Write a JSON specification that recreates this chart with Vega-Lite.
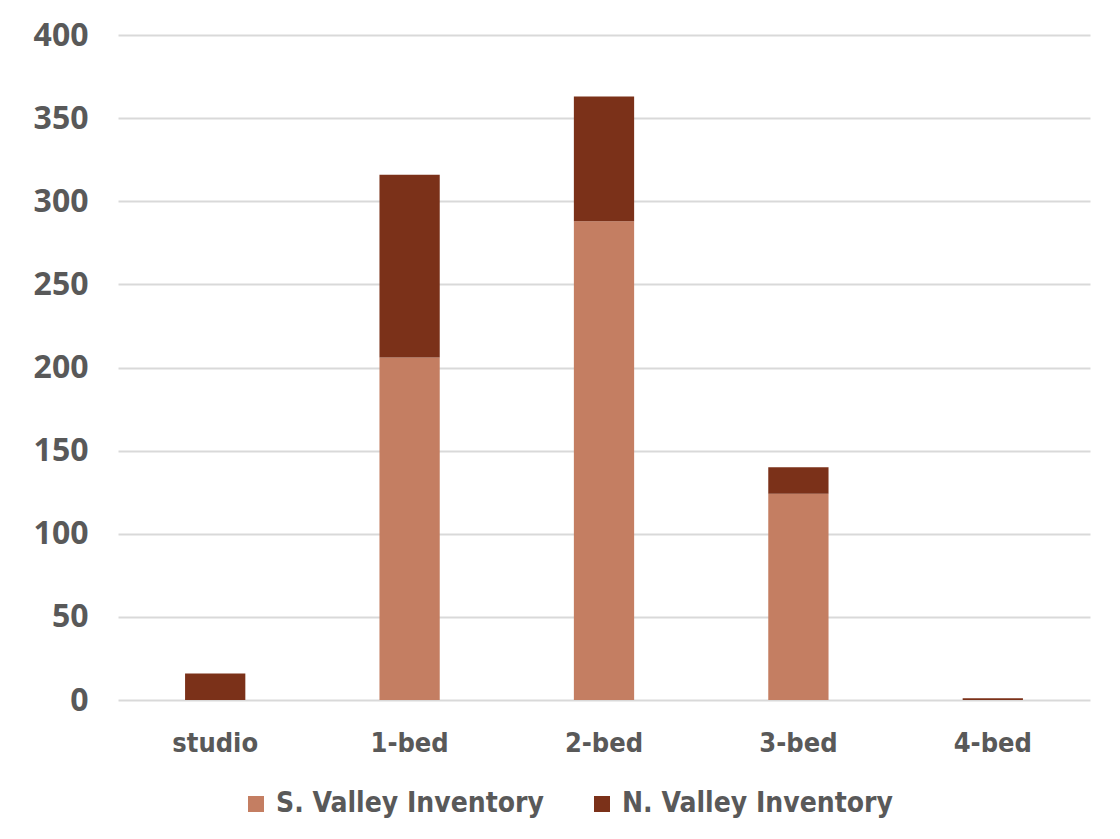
{
  "$schema": "https://vega.github.io/schema/vega-lite/v6.json",
  "width": 972,
  "height": 665,
  "autosize": {"type": "none"},
  "padding": {"left": 118, "top": 35, "right": 30, "bottom": 139},
  "background": "white",
  "config": {"view": {"stroke": null}},
  "data": {
    "values": [
      {"type": "studio", "series": "S. Valley Inventory", "value": 0},
      {"type": "studio", "series": "N. Valley Inventory", "value": 16},
      {"type": "1-bed", "series": "S. Valley Inventory", "value": 206},
      {"type": "1-bed", "series": "N. Valley Inventory", "value": 110},
      {"type": "2-bed", "series": "S. Valley Inventory", "value": 288},
      {"type": "2-bed", "series": "N. Valley Inventory", "value": 75},
      {"type": "3-bed", "series": "S. Valley Inventory", "value": 124},
      {"type": "3-bed", "series": "N. Valley Inventory", "value": 16},
      {"type": "4-bed", "series": "S. Valley Inventory", "value": 0},
      {"type": "4-bed", "series": "N. Valley Inventory", "value": 1}
    ]
  },
  "mark": {"type": "bar"},
  "encoding": {
    "x": {
      "field": "type", "type": "nominal", "sort": null,
      "scale": {"paddingInner": 0.69, "paddingOuter": 0.345},
      "axis": {
        "title": null, "labelAngle": 0, "ticks": false, "domain": false,
        "labelFont": "DejaVu Sans Condensed, Open Sans", "labelFontWeight": "bold", "labelFontSize": 27,
        "labelColor": "#595959", "labelPadding": 30
      }
    },
    "y": {
      "field": "value", "type": "quantitative", "stack": "zero",
      "scale": {"domain": [0, 400]},
      "axis": {
        "title": null, "values": [0, 50, 100, 150, 200, 250, 300, 350, 400],
        "ticks": false, "domain": false, "gridColor": "#d9d9d9", "gridWidth": 2,
        "labelFont": "Open Sans", "labelFontWeight": "bold", "labelFontSize": 32,
        "labelColor": "#595959", "labelPadding": 30
      }
    },
    "color": {
      "field": "series", "type": "nominal",
      "scale": {"domain": ["S. Valley Inventory", "N. Valley Inventory"], "range": ["#C47E62", "#7B3119"]},
      "legend": {
        "title": null, "orient": "none", "legendX": 124, "legendY": 755,
        "direction": "horizontal", "columns": 2, "columnPadding": 44,
        "symbolType": "square", "symbolSize": 256, "symbolStrokeWidth": 0,
        "labelFont": "DejaVu Sans Condensed, Open Sans", "labelFontWeight": "bold", "labelFontSize": 28,
        "labelColor": "#595959", "labelOffset": 6, "labelLimit": 500
      }
    },
    "order": {"field": "series", "sort": "descending"}
  }
}
